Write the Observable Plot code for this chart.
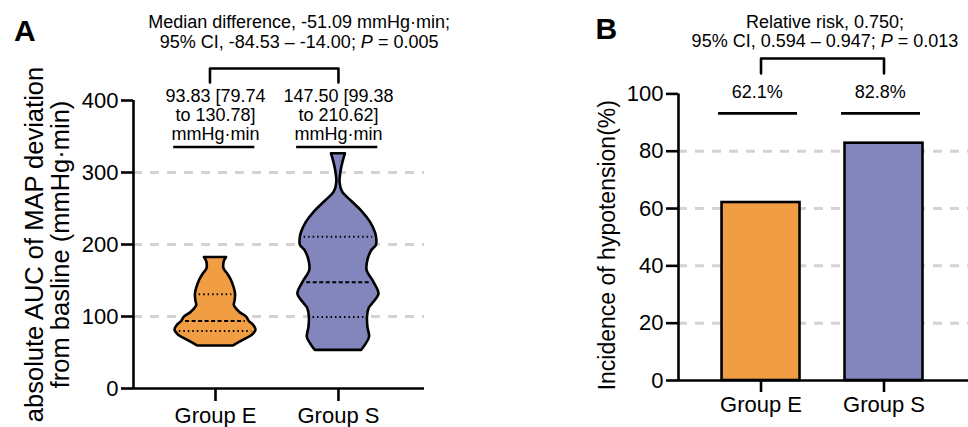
<!DOCTYPE html>
<html><head><meta charset="utf-8">
<script src="https://cdn.jsdelivr.net/npm/d3@7"></script>
<script src="https://cdn.jsdelivr.net/npm/@observablehq/plot@0.6"></script>
<style>
html,body{margin:0;padding:0;background:#fff;}
#wrap{position:relative;width:968px;height:427px;overflow:hidden;}
#wrap svg{position:absolute;top:0;}
</style></head><body><div id="wrap"></div>
<script>
// ---------- data ----------
const groups = ["Group E", "Group S"];
const groupPos = [1, 2];
const colors = ["#F09D44", "#8286BD"];

// Panel A: violin outlines (value, relative density)
const yTicksA = [0, 100, 200, 300, 400];
const gridA = [100, 200, 300];
const violinE_value   = [59, 67, 74, 81, 88, 93, 99, 106, 115, 122, 131, 139, 150, 158, 166, 171, 177, 182];
const violinE_density = [0.43, 0.68, 0.90, 0.99, 0.93, 0.83, 0.76, 0.59, 0.46, 0.48, 0.49, 0.46, 0.39, 0.31, 0.21, 0.20, 0.22, 0.27];
const violinS_value   = [53, 62, 71, 85, 99, 111, 118, 131, 147, 164, 178, 192, 199, 210, 217, 231, 245, 259, 273, 286, 300, 314, 326];
const violinS_density = [0.57, 0.68, 0.76, 0.72, 0.71, 0.75, 0.84, 0.99, 0.87, 0.70, 0.72, 0.82, 0.93, 0.93, 0.90, 0.78, 0.59, 0.34, 0.10, 0.04, 0.06, 0.11, 0.17];
const quartilesE = [79.74, 93.83, 130.78];
const quartilesS = [99.38, 147.50, 210.62];
const labelsA = ["93.83 [79.74\nto 130.78]\nmmHg·min", "147.50 [99.38\nto 210.62]\nmmHg·min"];
const titleA = "Median difference, -51.09 mmHg·min;\n95% CI, -84.53 – -14.00; P = 0.005";
const yLabelA = "absolute AUC of MAP deviation\nfrom basline (mmHg·min)";

// Panel B
const yTicksB = [0, 20, 40, 60, 80, 100];
const gridB = [20, 40, 60, 80];
const incidence = [62.1, 82.8];
const pctLabels = ["62.1%", "82.8%"];
const titleB = "Relative risk, 0.750;\n95% CI, 0.594 – 0.947; P = 0.013";
const yLabelB = "Incidence of hypotension(%)";

// ---------- helpers ----------
const FONT = "Liberation Sans, Arial, Helvetica, sans-serif";
const K = 0.333; // half-width of a violin at density 1 (x units)
const violins = [
  {pos: 1, values: violinE_value, dens: violinE_density, q: quartilesE, color: colors[0]},
  {pos: 2, values: violinS_value, dens: violinS_density, q: quartilesS, color: colors[1]}
];
const gridStyle = {stroke: "#d3d3d3", strokeWidth: 3, strokeDasharray: "9,8"};

// ---------- Panel A ----------
const xDomA = [0.333, 2.70];
const marksA = [
  Plot.ruleY(gridA, {...gridStyle}),
];
for (const v of violins) {
  const rows = v.values.map((y, i) => ({y, d: v.dens[i]}));
  marksA.push(Plot.areaX(rows, {
    y: "y", x1: d => v.pos - d.d * K, x2: d => v.pos + d.d * K,
    curve: "catmull-rom", fill: v.color, stroke: "black", strokeWidth: 2.6, strokeLinejoin: "round"
  }));
  const interp = d3.scaleLinear().domain(v.values).range(v.dens);
  const qrows = v.q.map((q, i) => ({q, i, d: interp(q)}));
  marksA.push(Plot.ruleY(qrows.filter(r => r.i !== 1), {
    y: "q", x1: r => v.pos - r.d * K + 0.03, x2: r => v.pos + r.d * K - 0.03,
    stroke: "black", strokeWidth: 2, strokeDasharray: "1.5,3"
  }));
  marksA.push(Plot.ruleY(qrows.filter(r => r.i === 1), {
    y: "q", x1: r => v.pos - r.d * K + 0.03, x2: r => v.pos + r.d * K - 0.03,
    stroke: "black", strokeWidth: 2, strokeDasharray: "4,2.5"
  }));
}
marksA.push(
  Plot.ruleX([xDomA[0]], {y1: 0, y2: 400, strokeWidth: 2.6}),
  Plot.ruleY([0], {strokeWidth: 2.6}),
  Plot.axisY({ticks: yTicksA, tickSize: 12, tickPadding: 3, fontSize: 22, strokeWidth: 2.6, label: null}),
  Plot.axisX({ticks: groupPos, tickFormat: d => groups[d - 1], tickSize: 13, tickPadding: 6, fontSize: 22, strokeWidth: 2.6, label: null}),
  // group summaries
  Plot.text(labelsA, {x: (d, i) => groupPos[i], y: 345.8, text: d => d, lineAnchor: "bottom", lineHeight: 1.03, fontSize: 18}),
  Plot.ruleY(groupPos, {y: 335.4, x1: d => d - 0.34, x2: d => d + 0.32, strokeWidth: 2.6}),
  // bracket
  Plot.line([[0.955, 425], [0.955, 444.4], [2, 444.4], [2, 425]], {strokeWidth: 2.6}),
  Plot.text([titleA], {x: 1.68, y: 473.6, lineAnchor: "bottom", lineHeight: 1.06, fontSize: 18}),
  Plot.text(["A"], {x: -0.64, y: 483, textAnchor: "start", lineAnchor: "bottom", fontSize: 30, fontWeight: "bold"}),
  Plot.text([yLabelA], {frameAnchor: "left", textAnchor: "middle", dx: -65, rotate: -90, lineAnchor: "bottom", lineHeight: 1.02, fontSize: 25.5})
);

const plotA = Plot.plot({
  width: 440, height: 427,
  marginLeft: 133, marginRight: 16, marginTop: 100, marginBottom: 39,
  x: {domain: xDomA, axis: null},
  y: {domain: [0, 400], axis: null},
  style: {fontFamily: FONT, color: "black", background: "transparent", overflow: "visible"},
  marks: marksA
});

// ---------- Panel B ----------
const xDomB = [0.329, 2.687];
const barRows = groupPos.map((p, i) => ({p, v: incidence[i], c: colors[i]}));
const plotB = Plot.plot({
  width: 408, height: 427,
  marginLeft: 118, marginRight: 0, marginTop: 93.4, marginBottom: 47,
  x: {domain: xDomB, axis: null},
  y: {domain: [0, 100], axis: null},
  style: {fontFamily: FONT, color: "black", background: "transparent", overflow: "visible"},
  marks: [
    Plot.ruleY(gridB, {...gridStyle}),
    Plot.rectY(barRows, {x1: d => d.p - 0.317, x2: d => d.p + 0.317, y1: 0, y2: "v", fill: d => d.c, stroke: "black", strokeWidth: 2.6}),
    Plot.ruleX([xDomB[0]], {y1: 0, y2: 100, strokeWidth: 2.6}),
    Plot.ruleY([0], {strokeWidth: 2.6}),
    Plot.axisY({ticks: yTicksB, tickSize: 12, tickPadding: 3, fontSize: 22, strokeWidth: 2.6, label: null}),
    Plot.axisX({ticks: groupPos, tickFormat: d => groups[d - 1], tickSize: 12, tickPadding: 4, fontSize: 22, strokeWidth: 2.6, label: null}),
    Plot.text(pctLabels, {x: (d, i) => groupPos[i] - 0.03, y: 98.7, text: d => d, lineAnchor: "bottom", fontSize: 18}),
    Plot.ruleY(groupPos, {y: 93.2, x1: d => d - 0.345, x2: d => d + 0.297, strokeWidth: 2.6}),
    Plot.line([[1, 107.1], [1, 112.35], [2, 112.35], [2, 107.1]], {strokeWidth: 2.6}),
    Plot.text([titleB], {x: 1.52, y: 116.5, lineAnchor: "bottom", lineHeight: 1.06, fontSize: 18}),
    Plot.text(["B"], {x: -0.345, y: 119.3, textAnchor: "start", lineAnchor: "bottom", fontSize: 30, fontWeight: "bold"}),
    Plot.text([yLabelB], {frameAnchor: "left", textAnchor: "middle", dx: -64, dy: 8, rotate: -90, lineAnchor: "bottom", fontSize: 23})
  ]
});

const wrap = document.getElementById("wrap");
plotA.style.left = "0px";
plotB.style.left = "560px";
wrap.appendChild(plotA);
wrap.appendChild(plotB);

// italic P in the statistics lines
d3.selectAll("#wrap text, #wrap tspan").each(function () {
  if (this.children.length) return;
  const t = this.textContent;
  const idx = t.indexOf("P = ");
  if (idx < 0) return;
  this.textContent = t.slice(0, idx);
  const it = document.createElementNS("http://www.w3.org/2000/svg", "tspan");
  it.setAttribute("font-style", "italic");
  it.textContent = "P";
  this.appendChild(it);
  this.appendChild(document.createTextNode(t.slice(idx + 1)));
});
</script></body></html>
